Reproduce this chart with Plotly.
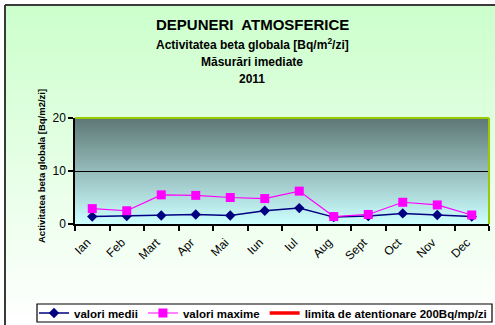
import plotly.graph_objects as go

# Monthly beta activity of atmospheric deposits, 2011
months = ["Ian", "Feb", "Mart", "Apr", "Mai", "Iun", "Iul", "Aug", "Sept", "Oct", "Nov", "Dec"]
valori_medii = [1.4, 1.5, 1.6, 1.8, 1.6, 2.5, 3.0, 1.3, 1.5, 2.0, 1.7, 1.4]
valori_maxime = [2.9, 2.5, 5.5, 5.4, 5.0, 4.8, 6.2, 1.4, 1.8, 4.1, 3.6, 1.7]
limita = [200] * len(months)

W, H = 495, 325
L, R, T, B = 75, 489, 118, 224  # plot area edges in pixels
PW, PH = R - L, B - T


def px(x):
    return (x - L) / PW


def py(y):
    return (B - y) / PH


def lerp(c0, c1, t):
    return "rgb(%d,%d,%d)" % tuple(round(a + (b - a) * t) for a, b in zip(c0, c1))


FONT = "Arial, Liberation Sans, sans-serif"

fig = go.Figure()

fig.add_trace(go.Scatter(
    x=months, y=valori_medii, name="valori medii", mode="lines+markers",
    line=dict(color="#000080", width=1.5),
    marker=dict(symbol="diamond", size=8, color="#000080"),
))
fig.add_trace(go.Scatter(
    x=months, y=valori_maxime, name="valori maxime", mode="lines+markers",
    line=dict(color="#FF00FF", width=1.2),
    marker=dict(symbol="square", size=9, color="#FF00FF"),
))
fig.add_trace(go.Scatter(
    x=months, y=limita, name="limita de atentionare 200Bq/mp/zi", mode="lines",
    line=dict(color="#FF0000", width=3.5),
))

shapes = []

# chart-area background: pale green fading to white
top_c, bot_c = (204, 255, 204), (255, 255, 255)
n = 64
y0, y1 = 5, H
for i in range(n):
    a = y0 + (y1 - y0) * i / n
    b = y0 + (y1 - y0) * (i + 1) / n + 0.6
    shapes.append(dict(type="rect", xref="paper", yref="paper",
                       x0=px(5), x1=px(W + 5), y0=py(b), y1=py(a),
                       fillcolor=lerp(top_c, bot_c, i / (n - 1)),
                       line=dict(width=0), layer="below"))

# plot-area background: slate grey fading to light cyan
ptop, pbot = (94, 120, 118), (204, 255, 255)
m = 53
for i in range(m):
    a = T + PH * i / m
    b = T + PH * (i + 1) / m + 0.6
    shapes.append(dict(type="rect", xref="paper", yref="paper",
                       x0=0, x1=1, y0=max(py(b), 0), y1=py(a),
                       fillcolor=lerp(ptop, pbot, i / (m - 1)),
                       line=dict(width=0), layer="below"))

# outer frame (top and left edges)
shapes.append(dict(type="line", xref="paper", yref="paper",
                   x0=px(5), x1=px(W + 5), y0=py(5), y1=py(5),
                   line=dict(color="#3a3a3a", width=2), layer="above"))
shapes.append(dict(type="line", xref="paper", yref="paper",
                   x0=px(5), x1=px(5), y0=py(5), y1=py(H + 5),
                   line=dict(color="#3a3a3a", width=2), layer="above"))

# yellow-green border on the top and right of the plot area
shapes.append(dict(type="line", xref="paper", yref="paper",
                   x0=0, x1=1, y0=1, y1=1,
                   line=dict(color="#99CC00", width=2), layer="above"))
shapes.append(dict(type="line", xref="paper", yref="paper",
                   x0=1, x1=1, y0=0, y1=1,
                   line=dict(color="#99CC00", width=2), layer="above"))

# legend box
shapes.append(dict(type="rect", xref="paper", yref="paper",
                   x0=px(37), x1=px(492), y0=py(322), y1=py(304),
                   fillcolor="white", line=dict(color="black", width=1.2),
                   layer="above"))

annotations = []
titles = [
    ("DEPUNERI  ATMOSFERICE", 15, 24.5),
    ("Activitatea beta globala [Bq/m<sup>2</sup>/zi]", 12, 44),
    ("Măsurări imediate", 12, 62.5),
    ("2011", 12, 78.5),
]
for text, size, yc in titles:
    annotations.append(dict(text="<b>%s</b>" % text, xref="paper", yref="paper",
                            x=px(252), y=py(yc), xanchor="center", yanchor="middle",
                            showarrow=False, font=dict(family=FONT, size=size, color="black")))

annotations.append(dict(text="<b>Activitatea beta globala [Bq/m2/zi]</b>",
                        xref="paper", yref="paper", x=px(41), y=py(166),
                        xanchor="center", yanchor="middle", textangle=-90,
                        showarrow=False, font=dict(family=FONT, size=9.5, color="black")))

fig.update_layout(
    width=W, height=H,
    margin=dict(l=L, r=W - R, t=T, b=H - B, autoexpand=False),
    paper_bgcolor="white",
    plot_bgcolor="rgba(0,0,0,0)",
    font=dict(family=FONT, color="black"),
    shapes=shapes,
    annotations=annotations,
    showlegend=True,
    legend=dict(
        orientation="h", x=px(34), y=py(313), xanchor="left", yanchor="middle",
        bgcolor="rgba(0,0,0,0)", borderwidth=0,
        font=dict(family=FONT, size=11.5, color="black", weight="bold"),
        itemwidth=30, tracegroupgap=0,
    ),
    xaxis=dict(
        type="category", categoryorder="array", categoryarray=months,
        range=[-0.5, len(months) - 0.5],
        showline=True, linecolor="black", linewidth=1.5,
        ticks="outside", ticklen=5, tickcolor="black", tickwidth=1.5,
        tickson="boundaries", tickangle=-45, showgrid=False,
        ticklabelshift=-5, ticklabelstandoff=5,
        tickfont=dict(family=FONT, size=12, color="black"),
        fixedrange=True,
    ),
    yaxis=dict(
        range=[0, 20], dtick=10, showline=True, linecolor="black", linewidth=1.5,
        ticks="outside", ticklen=5, tickcolor="black", tickwidth=1.5,
        showgrid=True, gridcolor="black", gridwidth=1, zeroline=False,
        tickfont=dict(family=FONT, size=12, color="black"),
        fixedrange=True,
    ),
)

fig.write_html("out.html")
